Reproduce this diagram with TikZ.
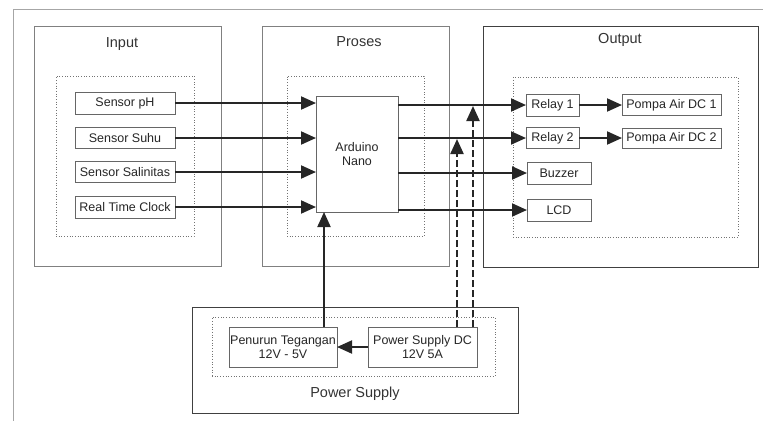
\documentclass[tikz,border=0pt]{standalone}
\usepackage{fontspec}
\setmainfont{Liberation Sans}
\usepackage{tikz}
\usetikzlibrary{arrows.meta}

\begin{document}
\begin{tikzpicture}[
    x=1pt, y=-1pt,
    frame/.style={draw=gray, line width=0.8pt, inner sep=0pt, outer sep=0pt},
    dotbox/.style={draw=gray!90!black, dotted, line width=0.7pt, inner sep=0pt, outer sep=0pt},
    title/.style={font=\fontsize{14.5}{16}\selectfont, text=black!80},
    box/.style={draw=gray!80!black, line width=0.8pt, align=center, inner sep=0pt, outer sep=0pt,
      minimum height=22pt, font=\fontsize{12.5}{14}\selectfont, text=black!85, fill=white},
    arrow/.style={-{Triangle[length=15pt, width=13pt]}, line width=2pt, black!85},
    dasharrow/.style={arrow, dash pattern=on 7pt off 3pt, line width=2.2pt}
  ]
    \useasboundingbox (0,0) rectangle (763,421);
    \draw[gray!70, line width=0.8pt] (763,9) -- (13,9) -- (13,421);

    % frames
    \node[frame, minimum width=187pt, minimum height=240pt] (input) at (127.5,146) {};
    \node[dotbox, minimum width=138pt, minimum height=160pt] (inputin) at (125,156) {};
    \node[frame, minimum width=187pt, minimum height=240pt] (proses) at (355.5,146) {};
    \node[dotbox, minimum width=137pt, minimum height=160pt] (prosesin) at (355.5,156) {};
    \node[frame, draw=black!75, minimum width=275pt, minimum height=241pt] (output) at (620.5,146.5) {};
    \node[dotbox, minimum width=225pt, minimum height=160pt] (outputin) at (625.5,157) {};
    \node[frame, draw=black!75, minimum width=326pt, minimum height=106pt] (power) at (355,360) {};
    \node[dotbox, minimum width=283pt, minimum height=59pt] (powerin) at (353.5,346.5) {};

    \node[title] (tinput) at (122,44) {Input};
    \node[title] (tproses) at (359,42) {Proses};
    \node[title] (toutput) at (620,40) {Output};
    \node[title] (tpower) at (355,394) {Power Supply};

    % input
    \node[box, minimum width=100pt] (ph) at (125,103) {Sensor pH};
    \node[box, minimum width=100pt, minimum height=21pt] (suhu) at (125,138) {Sensor Suhu};
    \node[box, minimum width=100pt, minimum height=21pt] (salin) at (125,172) {Sensor Salinitas};
    \node[box, minimum width=100pt] (rtc) at (125,207) {Real Time Clock};

    % proses
    \node[box, minimum width=82pt, minimum height=116pt] (nano) at (357,154) {Arduino\\Nano};

    % output
    \node[box, minimum width=53pt] (relay1) at (552.5,105) {Relay 1};
    \node[box, minimum width=99pt, minimum height=21pt] (pompa1) at (671.5,105) {Pompa Air DC 1};
    \node[box, minimum width=53pt, minimum height=21pt] (relay2) at (552.5,138) {Relay 2};
    \node[box, minimum width=99pt, minimum height=20pt] (pompa2) at (671.5,138) {Pompa Air DC 2};
    \node[box, minimum width=64pt] (buzzer) at (559,173) {Buzzer};
    \node[box, minimum width=64pt] (lcd) at (559,210) {LCD};

    % power supply
    \node[box, minimum width=108pt, minimum height=40pt] (turun) at (283,347) {Penurun Tegangan\\12V - 5V};
    \node[box, minimum width=109pt, minimum height=40pt] (psdc) at (422.5,347) {Power Supply DC\\12V 5A};

    \coordinate (up5v) at ([xshift=41pt]turun.north);
    \coordinate (tap2) at ([xshift=34.5pt]psdc.north);
    \coordinate (tap1) at ([xshift=50.5pt]psdc.north);

    \draw[arrow] (ph.east) -- (ph.east -| nano.west);
    \draw[arrow] (suhu.east) -- (suhu.east -| nano.west);
    \draw[arrow] (salin.east) -- (salin.east -| nano.west);
    \draw[arrow] (rtc.east) -- (rtc.east -| nano.west);

    \draw[arrow] (nano.east |- relay1.west) -- (relay1.west);
    \draw[arrow] (nano.east |- relay2.west) -- (relay2.west);
    \draw[arrow] (nano.east |- buzzer.west) -- (buzzer.west);
    \draw[arrow] (nano.east |- lcd.west) -- (lcd.west);
    \draw[arrow] (relay1) -- (pompa1);
    \draw[arrow] (relay2) -- (pompa2);

    \draw[arrow] (psdc) -- (turun);
    \draw[arrow] (up5v) -- (up5v |- nano.south);
    \draw[dasharrow] (tap2) -- ([yshift=-1pt]tap2 |- relay2.west);
    \draw[dasharrow] (tap1) -- ([yshift=-1pt]tap1 |- relay1.west);
  \end{tikzpicture}
\end{document}
